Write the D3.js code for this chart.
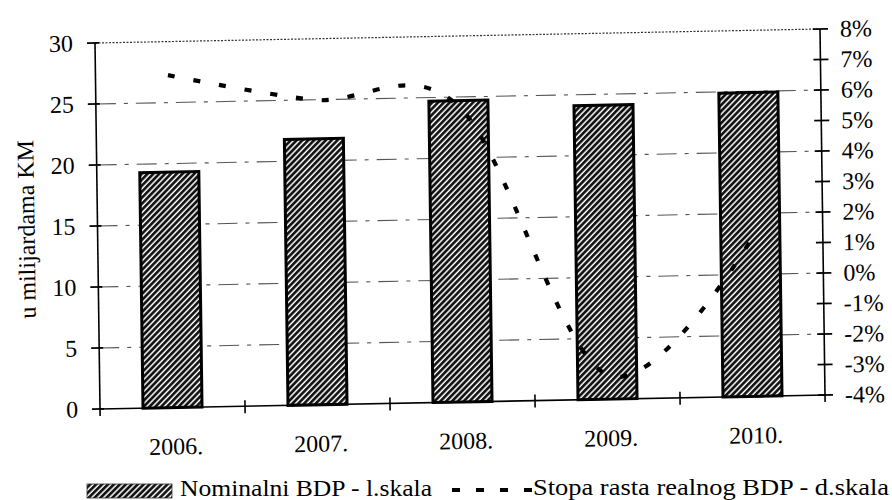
<!DOCTYPE html>
<html>
<head>
<meta charset="utf-8">
<script src="https://cdn.jsdelivr.net/npm/d3@7"></script>
<style>
  html, body { margin: 0; padding: 0; background: #fff; }
  svg { display: block; }
  text { font-family: "Liberation Serif", "Times New Roman", serif; fill: #000; }
</style>
</head>
<body>
<svg id="chart" width="892" height="500"></svg>
<script>
// ---- data ----
const categories = ["2006.", "2007.", "2008.", "2009.", "2010."];
const nominalBDP = [19.3, 21.8, 24.7, 24.1, 24.9];   // u milijardama KM (lijeva skala)
const growthRate = [6.9, 6.0, 5.7, -3.2, 1.1];       // % (desna skala)
const leftTicks = [0, 5, 10, 15, 20, 25, 30];
const rightTicks = [-4, -3, -2, -1, 0, 1, 2, 3, 4, 5, 6, 7, 8];
const rightTickLabels = ["-4%", "-3%", "-2%", "-1%", "0%", "1%", "2%", "3%", "4%", "5%", "6%", "7%", "8%"];
const legendLabels = ["Nominalni BDP - l.skala", "Stopa rasta realnog BDP - d.skala"];
const yAxisTitle = "u milijardama KM";

// ---- layout ----
const W = 725, H = 366;
const svg = d3.select("#chart");

const defs = svg.append("defs");
const pat = defs.append("pattern")
  .attr("id", "hatch")
  .attr("patternUnits", "userSpaceOnUse")
  .attr("width", 4.2).attr("height", 4.2)
  .attr("patternTransform", "rotate(45)");
pat.append("rect").attr("width", 4.2).attr("height", 4.2).attr("fill", "#111");
pat.append("line").attr("x1", 1).attr("y1", 0).attr("x2", 1).attr("y2", 4.2)
  .attr("stroke", "#fff").attr("stroke-width", 1.5);

// slightly skewed group (scanned page)
const g = svg.append("g")
  .attr("transform", "matrix(1,-0.0193,0.0137,1,95,43)");

const x = d3.scaleBand().domain(categories).range([0, W])
  .paddingInner(0.593).paddingOuter(0.2965);
const step = x.step();
const yL = d3.scaleLinear().domain([0, 30]).range([H, 0]);
const yR = d3.scaleLinear().domain([-4, 8]).range([H, 0]);

// gridlines
g.append("g").selectAll("line")
  .data(leftTicks.filter(d => d > 0 && d < 30))
  .join("line")
  .attr("x1", 0).attr("x2", W)
  .attr("y1", d => yL(d)).attr("y2", d => yL(d))
  .attr("stroke", "#555").attr("stroke-width", 1.1)
  .attr("stroke-dasharray", "20,8,4,8");
// top border (dotted)
g.append("line")
  .attr("x1", 0).attr("x2", W).attr("y1", yL(30)).attr("y2", yL(30))
  .attr("stroke", "#333").attr("stroke-width", 1.2)
  .attr("stroke-dasharray", "2,1.5");

// bars
g.append("g").selectAll("rect")
  .data(categories)
  .join("rect")
  .attr("x", d => x(d))
  .attr("width", x.bandwidth())
  .attr("y", (d, i) => yL(nominalBDP[i]))
  .attr("height", (d, i) => H - yL(nominalBDP[i]))
  .attr("fill", "url(#hatch)")
  .attr("stroke", "#000").attr("stroke-width", 3);

// line
const line = d3.line()
  .x((d, i) => x(categories[i]) + x.bandwidth() / 2)
  .y(d => yR(d))
  .curve(d3.curveCatmullRom.alpha(0));
g.append("path")
  .datum(growthRate)
  .attr("d", line)
  .attr("fill", "none")
  .attr("stroke", "#000").attr("stroke-width", 4.2)
  .attr("stroke-dasharray", "7,19");

// axes lines
g.append("line").attr("x1", 0).attr("x2", 0).attr("y1", 0).attr("y2", H + 7)
  .attr("stroke", "#000").attr("stroke-width", 1.6);
g.append("line").attr("x1", W).attr("x2", W).attr("y1", 0).attr("y2", H + 7)
  .attr("stroke", "#000").attr("stroke-width", 1.6);
g.append("line").attr("x1", 0).attr("x2", W).attr("y1", H).attr("y2", H)
  .attr("stroke", "#000").attr("stroke-width", 1.6);

// left ticks
g.append("g").selectAll("line").data(leftTicks).join("line")
  .attr("x1", -8).attr("x2", 4)
  .attr("y1", d => yL(d)).attr("y2", d => yL(d))
  .attr("stroke", "#000").attr("stroke-width", 1.6);
// right ticks
g.append("g").selectAll("line").data(rightTicks).join("line")
  .attr("x1", W - 7).attr("x2", W + 8)
  .attr("y1", d => yR(d)).attr("y2", d => yR(d))
  .attr("stroke", "#000").attr("stroke-width", 1.6);
// bottom ticks at category boundaries
g.append("g").selectAll("line").data(categories.slice(1)).join("line")
  .attr("x1", d => x(d) - (step - x.bandwidth()) / 2)
  .attr("x2", d => x(d) - (step - x.bandwidth()) / 2)
  .attr("y1", H - 6).attr("y2", H + 7)
  .attr("stroke", "#000").attr("stroke-width", 1.6);

// axis labels via d3 axes
const axL = g.append("g").call(d3.axisLeft(yL).tickValues(leftTicks).tickSize(0).tickPadding(22));
axL.select(".domain").remove();
axL.selectAll("text").attr("font-size", 24).attr("font-family", "Liberation Serif");

const axR = g.append("g").attr("transform", `translate(${W},0)`)
  .call(d3.axisRight(yR).tickValues(rightTicks).tickFormat((d, i) => rightTickLabels[i]).tickSize(0).tickPadding(20));
axR.select(".domain").remove();
axR.selectAll("text").attr("font-size", 24).attr("font-family", "Liberation Serif");

const axB = g.append("g").attr("transform", `translate(0,${H})`)
  .call(d3.axisBottom(x).tickSize(0));
axB.select(".domain").remove();
axB.selectAll("text").attr("font-size", 24).attr("font-family", "Liberation Serif")
  .attr("y", 47).attr("dy", 0).attr("dx", 3);

// y axis title
g.append("text")
  .attr("transform", "translate(-63,185) rotate(-90)")
  .attr("text-anchor", "middle")
  .attr("font-size", 24)
  .attr("font-family", "Liberation Serif")
  .text(yAxisTitle);

// legend (not skewed)
const lg = svg.append("g");
lg.append("rect").attr("x", 87).attr("y", 484).attr("width", 85).attr("height", 14)
  .attr("fill", "url(#hatch)").attr("stroke", "#333").attr("stroke-width", 0.8);
lg.append("text").attr("x", 180).attr("y", 496).attr("font-size", 23)
  .attr("font-family", "Liberation Serif")
  .attr("textLength", 252).attr("lengthAdjust", "spacingAndGlyphs")
  .text(legendLabels[0]);
lg.append("line").attr("x1", 452).attr("x2", 532).attr("y1", 490).attr("y2", 490)
  .attr("stroke", "#000").attr("stroke-width", 4.2).attr("stroke-dasharray", "8,16");
lg.append("text").attr("x", 533).attr("y", 495).attr("font-size", 23)
  .attr("font-family", "Liberation Serif")
  .attr("textLength", 356).attr("lengthAdjust", "spacingAndGlyphs")
  .text(legendLabels[1]);
</script>
</body>
</html>
